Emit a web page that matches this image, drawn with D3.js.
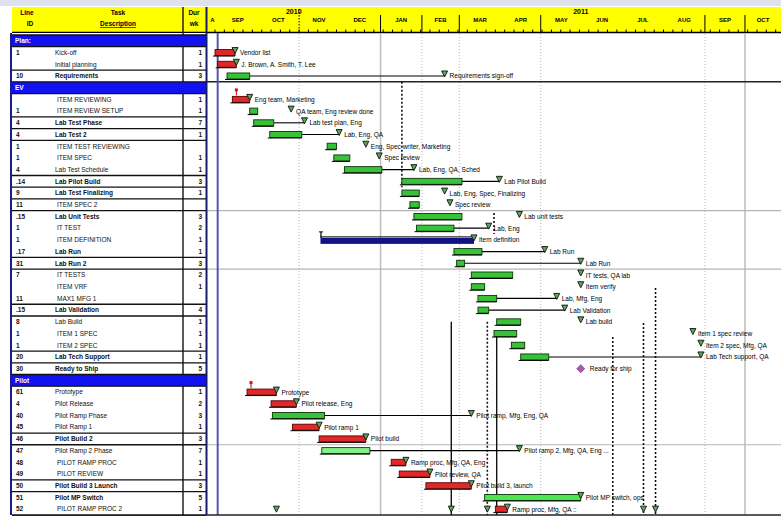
<!DOCTYPE html>
<html>
<head>
<meta charset="utf-8">
<script src="https://cdn.jsdelivr.net/npm/d3@7"></script>
<style>
    body { margin: 0; background: #fff; }
    svg { display: block; font-family: "Liberation Sans", Arial, sans-serif; }
</style>
</head>
<body>
<div id="chart"></div>
<script>
// left table: [line id, description, weeks, style]  g = phase header, b = summary row, t = task
var rows = [
    ["", "Plan:", "", "g"],
    ["1", "Kick-off", "1", "t"],
    ["", "Initial planning", "1", "t"],
    ["10", "Requirements", "3", "b"],
    ["", "EV", "", "g"],
    ["", "ITEM REVIEWING", "1", "t"],
    ["1", "ITEM REVIEW SETUP", "1", "t"],
    ["4", "Lab Test Phase", "7", "b"],
    ["4", "Lab Test 2", "1", "b"],
    ["1", "ITEM TEST REVIEWING", "", "t"],
    ["1", "ITEM SPEC", "1", "t"],
    ["4", "Lab Test Schedule", "1", "t"],
    [".14", "Lab Pilot Build", "3", "b"],
    ["9", "Lab Test Finalizing", "1", "b"],
    ["11", "ITEM SPEC 2", "", "t"],
    [".15", "Lab Unit Tests", "3", "b"],
    ["1", "IT TEST", "2", "t"],
    ["1", "ITEM DEFINITION", "1", "t"],
    [".17", "Lab Run", "1", "b"],
    ["31", "Lab Run 2", "3", "b"],
    ["7", "IT TESTS", "2", "t"],
    ["", "ITEM VRF", "1", "t"],
    ["11", "MAX1 MFG 1", "", "t"],
    [".15", "Lab Validation", "4", "b"],
    ["8", "Lab Build", "1", "t"],
    ["1", "ITEM 1 SPEC", "1", "t"],
    ["1", "ITEM 2 SPEC", "1", "t"],
    ["20", "Lab Tech Support", "1", "b"],
    ["30", "Ready to Ship", "5", "b"],
    ["", "Pilot", "", "g"],
    ["61", "Prototype", "1", "t"],
    ["4", "Pilot Release", "2", "t"],
    ["40", "Pilot Ramp Phase", "3", "t"],
    ["45", "Pilot Ramp 1", "1", "t"],
    ["46", "Pilot Build 2", "3", "b"],
    ["47", "Pilot Ramp 2 Phase", "7", "t"],
    ["48", "PILOT RAMP PROC", "1", "t"],
    ["49", "PILOT REVIEW", "1", "t"],
    ["50", "Pilot Build 3 Launch", "3", "b"],
    ["51", "Pilot MP Switch", "5", "b"],
    ["52", "PILOT RAMP PROC 2", "1", "t"]
];

// rows that get a rule above them in the table
var boxLines = [0, 1, 3, 4, 5, 7, 8, 9, 12, 13, 14, 15, 19, 20, 23, 24, 27, 28, 29, 30, 34, 35, 38, 39, 41];

var tasks = [
    {row: 1, start: "2010-08-30", end: "2010-09-14", type: "crit", label: "Vendor list"},
    {row: 2, start: "2010-09-01", end: "2010-09-15", type: "crit", label: "J. Brown, A. Smith, T. Lee"},
    {row: 3, start: "2010-09-08", end: "2010-09-25", type: "norm", due: "2011-02-18", line: true, label: "Requirements sign-off"},
    {row: 5, start: "2010-09-12", end: "2010-09-25", type: "crit", flag: "2010-09-15", label: "Eng team, Marketing"},
    {row: 6, start: "2010-09-25", end: "2010-10-01", type: "norm", due: "2010-10-26", label: "QA team, Eng review done"},
    {row: 7, start: "2010-09-28", end: "2010-10-13", type: "norm", due: "2010-11-05", line: true, label: "Lab test plan, Eng"},
    {row: 8, start: "2010-10-10", end: "2010-11-03", type: "norm", due: "2010-12-01", line: true, label: "Lab, Eng, QA"},
    {row: 9, start: "2010-11-22", end: "2010-11-29", type: "norm", due: "2010-12-21", label: "Eng, Spec writer, Marketing"},
    {row: 10, start: "2010-11-27", end: "2010-12-09", type: "norm", due: "2010-12-31", label: "Spec review"},
    {row: 11, start: "2010-12-05", end: "2011-01-02", type: "norm", due: "2011-01-26", line: true, label: "Lab, Eng, QA, Sched"},
    {row: 12, start: "2011-01-17", end: "2011-03-03", type: "norm", due: "2011-03-31", line: true, label: "Lab Pilot Build"},
    {row: 13, start: "2011-01-17", end: "2011-01-30", type: "norm", due: "2011-02-18", label: "Lab, Eng, Spec, Finalizing"},
    {row: 14, start: "2011-01-23", end: "2011-01-30", type: "norm", due: "2011-02-22", label: "Spec review"},
    {row: 15, start: "2011-01-26", end: "2011-03-03", type: "norm", due: "2011-04-15", label: "Lab unit tests"},
    {row: 16, start: "2011-01-28", end: "2011-02-25", type: "norm", due: "2011-03-23", line: true, label: "Lab, Eng"},
    {row: 17, start: "2010-11-17", end: "2011-03-12", type: "sum", label: "Item definition"},
    {row: 18, start: "2011-02-25", end: "2011-03-18", type: "norm", due: "2011-05-04", line: true, label: "Lab Run"},
    {row: 19, start: "2011-02-27", end: "2011-03-05", type: "norm", due: "2011-05-31", line: true, label: "Lab Run"},
    {row: 20, start: "2011-03-10", end: "2011-04-10", type: "norm", due: "2011-05-31", label: "IT tests, QA lab"},
    {row: 21, start: "2011-03-10", end: "2011-03-20", type: "norm", due: "2011-05-31", label: "Item verify"},
    {row: 22, start: "2011-03-15", end: "2011-03-29", type: "norm", due: "2011-05-13", line: true, label: "Lab, Mfg, Eng"},
    {row: 23, start: "2011-03-15", end: "2011-03-23", type: "norm", due: "2011-05-19", line: true, label: "Lab Validation"},
    {row: 24, start: "2011-03-29", end: "2011-04-16", type: "norm", due: "2011-05-31", label: "Lab build"},
    {row: 25, start: "2011-03-27", end: "2011-04-13", type: "norm", due: "2011-08-23", label: "Item 1 spec review"},
    {row: 26, start: "2011-04-09", end: "2011-04-19", type: "norm", due: "2011-08-29", label: "Item 2 spec, Mfg, QA"},
    {row: 27, start: "2011-04-16", end: "2011-05-07", type: "norm", due: "2011-08-29", line: true, label: "Lab Tech support, QA"},
    {row: 28, start: "2011-05-31", type: "mile", label: "Ready for ship"},
    {row: 30, start: "2010-09-23", end: "2010-10-15", type: "crit", flag: "2010-09-26", label: "Prototype"},
    {row: 31, start: "2010-10-11", end: "2010-10-30", type: "crit", label: "Pilot release, Eng"},
    {row: 32, start: "2010-10-12", end: "2010-11-20", type: "norm", due: "2011-03-10", line: true, label: "Pilot ramp, Mfg, Eng, QA"},
    {row: 33, start: "2010-10-27", end: "2010-11-16", type: "crit", label: "Pilot ramp 1"},
    {row: 34, start: "2010-11-16", end: "2010-12-21", type: "crit", label: "Pilot build"},
    {row: 35, start: "2010-11-18", end: "2010-12-24", type: "light", due: "2011-04-15", line: true, label: "Pilot ramp 2, Mfg, QA, Eng ..."},
    {row: 36, start: "2011-01-09", end: "2011-01-20", type: "crit", label: "Ramp proc, Mfg, QA, Eng"},
    {row: 37, start: "2011-01-15", end: "2011-02-07", type: "crit", label: "Pilot review, QA"},
    {row: 38, start: "2011-02-04", end: "2011-03-10", type: "crit", label: "Pilot build 3, launch"},
    {row: 39, start: "2011-03-20", end: "2011-05-31", type: "bright", label: "Pilot MP switch, ops"},
    {row: 40, start: "2011-03-28", end: "2011-04-06", type: "crit", label: "Ramp proc, Mfg, QA ::"}
];

// month boundaries marked in the header and down the chart
var gridDates = [
    {date: "2010-11-01", kind: "dot"},
    {date: "2011-01-01", kind: "solid"},
    {date: "2011-02-01", kind: "dot"},
    {date: "2011-03-01", kind: "dot"},
    {date: "2011-05-01", kind: "dot"},
    {date: "2011-09-01", kind: "dot"},
    {date: "2011-10-01", kind: "solid"}
];
var statusDate = "2010-09-01";

// deadline connectors (from row, to row)
var vLines = [
    {date: "2011-01-17", from: 4, to: 13, dash: true},
    {date: "2011-03-27", from: 15.2, to: 17, dash: true},
    {date: "2011-02-23", from: 24.5, to: 41, dash: false},
    {date: "2011-03-22", from: 24.5, to: 41, dash: true},
    {date: "2011-03-29", from: 25.3, to: 41, dash: false},
    {date: "2011-06-24", from: 25.8, to: 41, dash: true},
    {date: "2011-07-17", from: 24.6, to: 41, dash: true},
    {date: "2011-07-26", from: 21.6, to: 41, dash: true}
];
var bottomMarks = ["2010-10-15", "2011-02-23", "2011-03-22", "2011-07-17", "2011-07-26"];
var grayRules = [15, 20, 35];

var W = 781, H = 517;
var parse = d3.timeParse("%Y-%m-%d");
var svg = d3.select("#chart").append("svg")
    .attr("width", W)
    .attr("height", H);

var x = d3.scaleTime()
    .domain([new Date(2010, 7, 24), new Date(2011, 9, 28)])
    .range([207, 781]);
var y = d3.scaleLinear()
    .domain([0, rows.length])
    .range([35, 515]);
function cy(i) { return y(i + 0.5); }

var x0 = x.range()[0], x1 = x.range()[1];

// top strip
svg.append("rect").attr("x", 0).attr("y", 0).attr("width", W).attr("height", 6).attr("fill", "#dde2ec");

// header band
svg.append("rect").attr("x", 12).attr("y", 7).attr("width", W - 12).attr("height", 26).attr("fill", "#ffff00");

var head = svg.append("g").attr("font-size", 6.5).attr("font-weight", "bold").attr("text-anchor", "middle");
head.append("text").attr("x", 27).attr("y", 15).text("Line");
head.append("text").attr("x", 30).attr("y", 26).text("ID");
head.append("text").attr("x", 118).attr("y", 15).text("Task");
head.append("text").attr("x", 118).attr("y", 26).attr("text-decoration", "underline").text("Description");
head.append("text").attr("x", 194).attr("y", 15).text("Dur");
head.append("text").attr("x", 194).attr("y", 26).text("wk");

// years
d3.timeYear.range(d3.timeYear.floor(x.domain()[0]), x.domain()[1]).forEach(function(yr) {
    var a = Math.max(x0, x(yr)), b = Math.min(x1, x(d3.timeYear.offset(yr, 1)));
    head.append("text").attr("x", (a + b) / 2).attr("y", 14).attr("font-size", 7).text(d3.timeFormat("%Y")(yr));
});

// months
var fmt = d3.timeFormat("%b");
d3.timeMonth.range(d3.timeMonth.floor(x.domain()[0]), x.domain()[1]).forEach(function(m) {
    var a = Math.max(x0, x(m)), b = Math.min(x1, x(d3.timeMonth.offset(m, 1)));
    var t = fmt(m).toUpperCase();
    if (b - a < 16) t = t.charAt(0);
    head.append("text").attr("x", (a + b) / 2).attr("y", 22).attr("font-size", 6).text(t);
});

// week ticks
svg.append("g").selectAll("line").data(d3.timeMonday.range(x.domain()[0], x.domain()[1]))
    .enter().append("line")
    .attr("x1", function(d) { return x(d); }).attr("x2", function(d) { return x(d); })
    .attr("y1", 29.5).attr("y2", 32)
    .attr("stroke", "#000").attr("stroke-width", 1);

// header month separators
svg.append("g").selectAll("line").data(gridDates).enter().append("line")
    .attr("x1", function(d) { return x(parse(d.date)); })
    .attr("x2", function(d) { return x(parse(d.date)); })
    .attr("y1", function(d) { return d.date == "2010-11-01" ? 9 : 15; })
    .attr("y2", 32)
    .attr("stroke", "#000")
    .attr("stroke-dasharray", function(d) { return d.date == "2010-11-01" ? "1.5,1.5" : null; })
    .attr("stroke-width", 1);

svg.append("line").attr("x1", 12).attr("x2", W).attr("y1", 32.5).attr("y2", 32.5)
    .attr("stroke", "#000").attr("stroke-width", 1.5);

// chart grid
var grid = svg.append("g");
grid.selectAll("line.g").data(gridDates).enter().append("line")
    .attr("x1", function(d) { return x(parse(d.date)); })
    .attr("x2", function(d) { return x(parse(d.date)); })
    .attr("y1", 34).attr("y2", y(rows.length))
    .attr("stroke", function(d) { return d.kind == "dot" ? "#b8b8b8" : "#bdbdbd"; })
    .attr("stroke-width", function(d) { return d.kind == "dot" ? 1 : 1.5; })
    .attr("stroke-dasharray", function(d) { return d.kind == "dot" ? "1,2" : null; });

grid.selectAll("line.r").data(grayRules).enter().append("line")
    .attr("x1", x0).attr("x2", x1)
    .attr("y1", function(d) { return y(d); }).attr("y2", function(d) { return y(d); })
    .attr("stroke", "#b4b4b4").attr("stroke-width", 1.2);

grid.append("line").attr("x1", x0).attr("x2", x1).attr("y1", y(4)).attr("y2", y(4))
    .attr("stroke", "#222").attr("stroke-width", 1.5);

// status date
grid.append("line")
    .attr("x1", x(parse(statusDate))).attr("x2", x(parse(statusDate)))
    .attr("y1", 33).attr("y2", y(rows.length))
    .attr("stroke", "#5555b8").attr("stroke-width", 2);

// deadline connectors
grid.selectAll("line.v").data(vLines).enter().append("line")
    .attr("x1", function(d) { return x(parse(d.date)); })
    .attr("x2", function(d) { return x(parse(d.date)); })
    .attr("y1", function(d) { return y(d.from); })
    .attr("y2", function(d) { return y(d.to); })
    .attr("stroke", "#111")
    .attr("stroke-width", function(d) { return d.dash ? 1.6 : 1.4; })
    .attr("stroke-dasharray", function(d) { return d.dash ? "2,2" : null; });

function tri(g, xm, yc) {
    g.append("path")
        .attr("d", "M" + (xm - 3) + "," + (yc - 5) + "L" + (xm + 3) + "," + (yc - 5) + "L" + xm + "," + (yc + 1) + "Z")
        .attr("fill", "#5aa85a").attr("stroke", "#111").attr("stroke-width", 0.9);
}

var fills = {crit: "#e02828", norm: "#38c238", light: "#86f086", bright: "#4ee64e"};
var strokes = {crit: "#5c0000", norm: "#0b360b", light: "#0b360b", bright: "#0b360b"};

var marks = svg.append("g");
tasks.forEach(function(t) {
    var c = cy(t.row);
    var xs = x(parse(t.start));
    var xe = t.end ? x(parse(t.end)) : xs;
    var xd = t.due ? x(parse(t.due)) : xe;
    var g = marks.append("g");

    if (t.flag) {
        var xf = x(parse(t.flag));
        g.append("line").attr("x1", xf).attr("x2", xf).attr("y1", c - 10).attr("y2", c - 4)
            .attr("stroke", "#c00").attr("stroke-width", 1);
        g.append("rect").attr("x", xf - 1.5).attr("y", c - 11).attr("width", 3).attr("height", 3).attr("fill", "#d11");
    }

    if (t.line) {
        g.append("line").attr("x1", xe).attr("x2", xd).attr("y1", c).attr("y2", c)
            .attr("stroke", "#000").attr("stroke-width", 1.1);
    }

    if (t.type == "sum") {
        g.append("line").attr("x1", xs).attr("x2", xe).attr("y1", c - 3).attr("y2", c - 3)
            .attr("stroke", "#000").attr("stroke-width", 1);
        g.append("line").attr("x1", xs + 0.5).attr("x2", xs + 0.5).attr("y1", c - 8).attr("y2", c - 2)
            .attr("stroke", "#000").attr("stroke-width", 1.2);
        g.append("line").attr("x1", xs - 1.5).attr("x2", xs + 2.5).attr("y1", c - 8).attr("y2", c - 8)
            .attr("stroke", "#000").attr("stroke-width", 1);
        g.append("rect").attr("x", xs).attr("y", c - 2).attr("width", xe - xs).attr("height", 6)
            .attr("fill", "#121285");
        tri(g, xe, c);
    } else if (t.type == "mile") {
        g.append("path")
            .attr("d", "M" + xs + "," + (c - 4) + "L" + (xs + 4) + "," + c + "L" + xs + "," + (c + 4) + "L" + (xs - 4) + "," + c + "Z")
            .attr("fill", "#a35bb5").attr("stroke", "#6a2a7a").attr("stroke-width", 0.6);
    } else {
        g.append("rect").attr("x", xs).attr("y", c - 3).attr("width", Math.max(2, xe - xs)).attr("height", 6)
            .attr("fill", fills[t.type]).attr("stroke", strokes[t.type]).attr("stroke-width", 0.9);
        g.append("line").attr("x1", xs - 2).attr("x2", xe).attr("y1", c + 3.5).attr("y2", c + 3.5)
            .attr("stroke", "#000").attr("stroke-width", 1);
        tri(g, xd, c);
    }

    g.append("text")
        .attr("x", (t.type == "mile" ? xs + 4 : xd) + 5)
        .attr("y", c + 2.5)
        .attr("font-size", 6.5)
        .attr("fill", "#000")
        .text(t.label);
});

bottomMarks.forEach(function(d) { tri(marks, x(parse(d)), cy(40) + 2); });

svg.append("line").attr("x1", 12).attr("x2", W).attr("y1", y(rows.length)).attr("y2", y(rows.length))
    .attr("stroke", "#222").attr("stroke-width", 1.5);

// left table
var tbl = svg.append("g");
tbl.append("rect").attr("x", 12).attr("y", 33).attr("width", 194).attr("height", y(rows.length) - 33).attr("fill", "#fff");
tbl.append("line").attr("x1", 183).attr("x2", 183).attr("y1", 7).attr("y2", y(rows.length))
    .attr("stroke", "#222").attr("stroke-width", 1.5);

rows.forEach(function(r, i) {
    if (r[3] == "g") {
        tbl.append("rect").attr("x", 12).attr("y", y(i)).attr("width", 194).attr("height", y(i + 1) - y(i))
            .attr("fill", "#1212f0");
        tbl.append("text").attr("x", 15).attr("y", cy(i) + 2.3).attr("font-size", 6.5)
            .attr("font-weight", "bold").attr("fill", "#fff").text(r[1]);
    } else {
        var f = tbl.append("g").attr("font-size", 6.5).attr("fill", "#111")
            .attr("font-weight", r[3] == "b" ? "bold" : "normal");
        f.append("text").attr("x", 16).attr("y", cy(i) + 2.3).attr("font-weight", "bold").text(r[0]);
        f.append("text").attr("x", r[3] == "t" && r[1] == r[1].toUpperCase() ? 57 : 55).attr("y", cy(i) + 2.3).text(r[1]);
        f.append("text").attr("x", 202).attr("y", cy(i) + 2.3).attr("text-anchor", "end").attr("font-weight", "bold").text(r[2]);
    }
});

tbl.selectAll("line.b").data(boxLines).enter().append("line")
    .attr("x1", 12).attr("x2", 206)
    .attr("y1", function(d) { return y(d); }).attr("y2", function(d) { return y(d); })
    .attr("stroke", "#111").attr("stroke-width", 1.3);

tbl.append("line").attr("x1", 11).attr("x2", 11).attr("y1", 33).attr("y2", y(rows.length))
    .attr("stroke", "#1a1a8a").attr("stroke-width", 2);
tbl.append("line").attr("x1", 206.5).attr("x2", 206.5).attr("y1", 7).attr("y2", y(rows.length))
    .attr("stroke", "#1a1a6a").attr("stroke-width", 2);
</script>
</body>
</html>
